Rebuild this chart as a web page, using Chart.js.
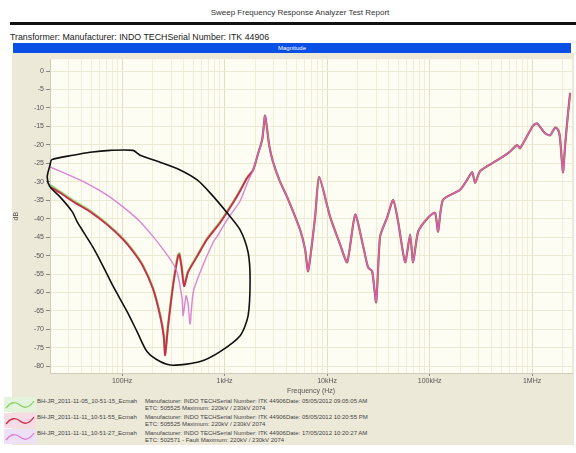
<!DOCTYPE html>
<html lang="en">
<head>
<meta charset="UTF-8">
<title>Sweep Frequency Response Analyzer Test Report</title>
<script src="https://cdn.jsdelivr.net/npm/chart.js"></script>
<style>
    body { margin: 0; width: 576px; height: 453px; background: #fff; position: relative; overflow: hidden;
           font-family: "Liberation Sans", Arial, sans-serif; }
    #report-title { position: absolute; top: 8px; left: 0; width: 600px; text-align: center; font-size: 8px; color: #333; }
    #rule { position: absolute; top: 22px; left: 10px; right: 0; height: 3px; background: #111; }
    #transformer { position: absolute; top: 32px; left: 10px; font-size: 8.8px; color: #222; }
    #magnitude { position: absolute; top: 43px; left: 13px; width: 558px; height: 10px; background: #0a4fe6;
                 color: #fff; font-size: 6px; line-height: 10px; text-align: center; }
    #panel { position: absolute; top: 53px; left: 12px; width: 562px; height: 392px; background: #ece9d8; }
    #chart-box { position: absolute; top: 0; left: 0; width: 562px; height: 342px; }
    #legend { position: absolute; top: 343px; left: 0; width: 562px; font-size: 6px; color: #444; }
    .row { position: relative; height: 16px; }
    .row svg { position: absolute; left: -8px; top: 1px; }
    .name { position: absolute; left: 25px; top: 2px; }
    .desc { position: absolute; left: 133px; top: 2px; line-height: 7px; }
</style>
</head>
<body>

<div id="report-title">Sweep Frequency Response Analyzer Test Report</div>
<div id="rule"></div>
<div id="transformer">Transformer: Manufacturer: INDO TECHSerial Number: ITK 44906</div>
<div id="magnitude">Magnitude</div>
<div id="panel">
    <div id="chart-box"><canvas id="sfra"></canvas></div>
    <div id="legend"></div>
</div>

<script>
    // tick labels
    const yTicks = [0, -5, -10, -15, -20, -25, -30, -35, -40, -45, -50, -55, -60, -65, -70, -75, -80];
    const xTickValues = [100, 1000, 10000, 100000, 1000000];
    const xTickLabels = ['100Hz', '1kHz', '10kHz', '100kHz', '1MHz'];

    // series names and notes
    const seriesNames = ['BH-JR_2011-11-05_10-51-15_Ecmah', 'BH-JR_2011-11-11_10-51-55_Ecmah', 'BH-JR_2011-11-11_10-51-27_Ecmah'];
    const seriesNotes = [
        ['Manufacturer: INDO TECHSerial Number: ITK 44906Date: 05/05/2012 09:05:05 AM', 'ETC: 505525 Maximum: 220kV / 230kV 2074'],
        ['Manufacturer: INDO TECHSerial Number: ITK 44906Date: 05/05/2012 10:20:55 PM', 'ETC: 505525 Maximum: 220kV / 230kV 2074'],
        ['Manufacturer: INDO TECHSerial Number: ITK 44906Date: 17/05/2012 10:20:27 AM', 'ETC: 502571 - Fault Maximum: 220kV / 230kV 2074']
    ];
    const seriesColors = ['#8fd06a', '#d02850', 'rgba(214,112,206,0.85)'];
    const legendBoxes = ['#e4f4dc', '#f6dce4', '#eee0f6'];

    // low frequency part of each trace (Hz, dB)
    const greenFreq = [19.8, 24.8, 33.3, 48.7, 71.4, 102, 128, 160, 200, 235, 255, 263, 281, 308, 329, 351, 362, 380, 403, 440, 540, 675, 904, 1211, 1417, 1658];
    const greenDb   = [-30.9, -32.7, -35.1, -37.9, -41.4, -45.4, -48.7, -52.7, -58.8, -66.0, -71.5, -76.5, -68.8, -59.6, -54.2, -50.0, -49.4, -52.8, -58.0, -54.3, -50.0, -45.4, -40.9, -35.5, -32.3, -28.9];
    const redFreq = [19.8, 24.8, 33.3, 48.7, 71.4, 102, 128, 160, 200, 235, 255, 263, 281, 308, 329, 351, 362, 380, 403, 440, 540, 675, 904, 1211, 1417, 1658];
    const redDb   = [-31.4, -33.0, -35.4, -38.1, -41.6, -45.6, -48.9, -52.9, -59.0, -66.3, -72.0, -77.0, -69.0, -59.9, -54.5, -50.2, -49.7, -53.0, -58.3, -54.5, -50.2, -45.6, -41.1, -35.7, -32.5, -29.0];
    const violetFreq = [19.8, 33.3, 48.7, 71.4, 102, 150, 200, 251, 308, 344, 385, 394, 421, 440, 461, 493, 577, 773, 845, 1058, 1417, 1658];
    const violetDb   = [-26.0, -28.7, -30.9, -33.6, -36.8, -40.8, -44.8, -48.3, -51.8, -54.5, -61.7, -66.3, -60.9, -63.0, -68.5, -60.0, -54.5, -46.4, -44.8, -40.3, -35.2, -30.5];

    // common part above ~2 kHz (Hz, dB)
    const sharedFreq = [1900, 2100, 2330, 2484, 2718, 2972, 3476, 4070, 5450, 6100, 6530, 7640, 8360, 10700, 13400, 15700, 18800, 22500, 25100, 27500, 30100, 32900, 38500, 44100, 49300, 57700, 64600, 69000, 77300, 96600, 113000, 121000, 135000, 198000, 232000, 260000, 278000, 311000, 456000, 597000, 714000, 764000, 1020000, 1120000, 1340000, 1500000, 1680000, 1800000, 1870000, 2000000, 2100000, 2240000, 2350000];
    const sharedDb   = [-26.8, -22.8, -18.5, -12.1, -20.0, -24.7, -30.0, -34.1, -43.0, -48.3, -54.2, -39.5, -28.7, -39.5, -47.0, -51.8, -38.9, -47.5, -53.2, -54.2, -62.6, -44.8, -39.7, -34.9, -40.8, -51.8, -44.3, -51.8, -43.5, -39.7, -38.4, -43.5, -34.9, -32.2, -29.5, -27.4, -30.3, -27.1, -24.2, -22.0, -20.1, -20.9, -14.8, -14.2, -16.9, -17.4, -15.3, -16.0, -18.0, -27.4, -20.0, -11.5, -5.9];

    // hand drawn marking round the low frequency region (Hz, dB)
    const loopFreq = [19.8, 20.6, 33.3, 48.7, 76.4, 128, 150, 235, 368, 540, 722, 1058, 1417, 1695, 1773, 1695, 1417, 904, 577, 315, 235, 175, 140, 112, 81.7, 65.3, 52.1, 46.6, 40.7, 36.4, 32.6, 24.8, 19.8, 18.6, 19.8];
    const loopDb   = [-25.5, -24.0, -22.8, -22.0, -21.5, -21.5, -22.8, -24.7, -26.8, -29.5, -33.0, -38.4, -43.0, -49.1, -56.4, -66.3, -71.7, -76.0, -78.7, -79.7, -78.7, -76.0, -70.6, -65.2, -58.3, -52.9, -47.8, -45.6, -43.0, -40.8, -38.1, -34.1, -31.4, -28.7, -25.5];

    function toPoints(freqs, dbs) {
        return freqs.map((f, i) => ({ x: f, y: dbs[i] }));
    }
    function withShared(freqs, dbs) {
        return toPoints(freqs, dbs).concat(toPoints(sharedFreq, sharedDb));
    }

    const plotBg = {
        id: 'plotBg',
        beforeDraw(chart) {
            const a = chart.chartArea;
            const c = chart.ctx;
            c.save();
            c.fillStyle = '#fdfdf4';
            c.fillRect(a.left, a.top, a.right - a.left, a.bottom - a.top);
            c.restore();
        }
    };

    const tickFont = { family: 'Liberation Sans', size: 7 };

    const chart = new Chart(document.getElementById('sfra'), {
        type: 'line',
        data: {
            datasets: [
                { label: 'marking', data: toPoints(loopFreq, loopDb), borderColor: '#111', borderWidth: 1.6,
                  tension: 0.25, pointRadius: 0, order: 0, clip: false },
                { label: seriesNames[2], data: withShared(violetFreq, violetDb), borderColor: seriesColors[2],
                  borderWidth: 1.4, tension: 0.2, pointRadius: 0, order: 1 },
                { label: seriesNames[1], data: withShared(redFreq, redDb), borderColor: seriesColors[1],
                  borderWidth: 1.8, tension: 0.2, pointRadius: 0, order: 2 },
                { label: seriesNames[0], data: withShared(greenFreq, greenDb), borderColor: seriesColors[0],
                  borderWidth: 2.4, tension: 0.2, pointRadius: 0, order: 3 }
            ]
        },
        options: {
            responsive: true,
            maintainAspectRatio: false,
            animation: false,
            layout: { padding: { left: 0, right: 2, top: 4, bottom: 0 } },
            plugins: { legend: { display: false }, tooltip: { enabled: false } },
            scales: {
                x: {
                    type: 'logarithmic',
                    min: 19.8,
                    max: 2450000,
                    afterBuildTicks(scale) {
                        const ticks = [];
                        for (let d = 10; d <= 1000000; d *= 10) {
                            for (let k = 1; k < 10; k++) {
                                const v = d * k;
                                if (v >= scale.min && v <= scale.max) ticks.push({ value: v });
                            }
                        }
                        scale.ticks = ticks;
                    },
                    afterFit(scale) { scale.height = 22; },
                    ticks: {
                        autoSkip: false, maxRotation: 0, padding: 1, color: '#555', font: tickFont,
                        callback(v) {
                            const i = xTickValues.indexOf(v);
                            return i >= 0 ? xTickLabels[i] : '';
                        }
                    },
                    grid: {
                        color: ctx => xTickValues.includes(ctx.tick && ctx.tick.value) ? '#e2e0c4' : '#f0eed8',
                        tickLength: 3,
                        tickColor: ctx => xTickValues.includes(ctx.tick && ctx.tick.value) ? '#888' : 'rgba(0,0,0,0)'
                    },
                    border: { color: '#cfcdb8' },
                    title: { display: true, text: 'Frequency (Hz)', color: '#555', font: tickFont, padding: 0 }
                },
                y: {
                    min: -81.8,
                    max: 3.2,
                    afterBuildTicks(scale) {
                        scale.ticks = yTicks.map(v => ({ value: v }));
                    },
                    afterFit(scale) { scale.width = 38; },
                    ticks: { color: '#555', font: tickFont, padding: 2 },
                    grid: { color: '#ecead2', tickLength: 4, tickColor: '#888' },
                    border: { color: '#cfcdb8' },
                    title: { display: true, text: 'dB', color: '#555', font: tickFont, padding: 0 }
                }
            }
        },
        plugins: [plotBg]
    });

    // legend: wavy sample line plus the two note lines for every trace
    const legend = document.getElementById('legend');
    seriesNames.forEach((name, i) => {
        const row = document.createElement('div');
        row.className = 'row';
        row.innerHTML =
            '<svg width="32" height="15"><rect x="0" y="0" width="32" height="15" fill="' + legendBoxes[i] + '"/>' +
            '<path d="M2 11 Q9 2 16 8 T30 4" fill="none" stroke="' + seriesColors[i] + '" stroke-width="1.3"/></svg>' +
            '<span class="name">' + name + '</span>' +
            '<span class="desc">' + seriesNotes[i][0] + '<br>' + seriesNotes[i][1] + '</span>';
        legend.appendChild(row);
    });
</script>

</body>
</html>
